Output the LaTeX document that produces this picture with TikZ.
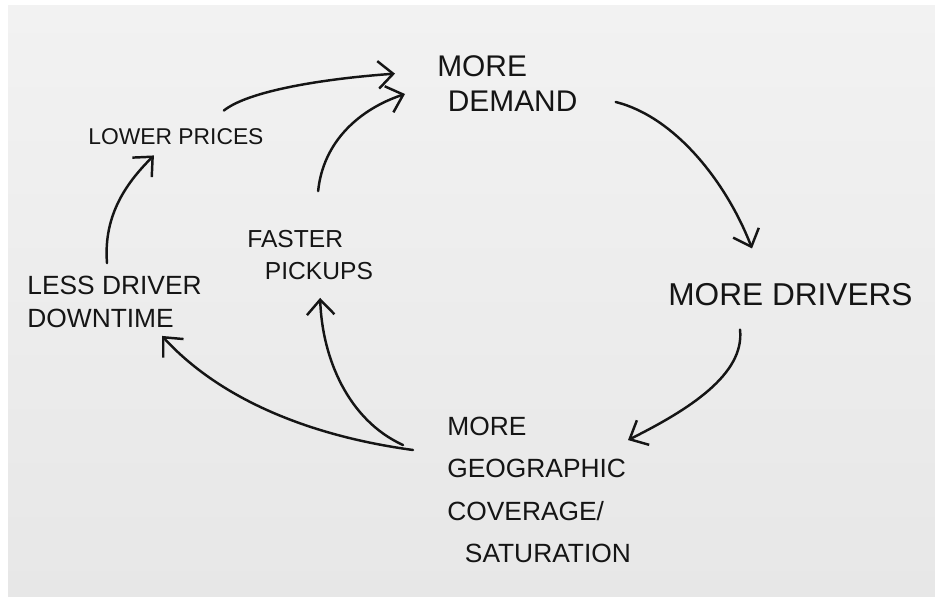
\documentclass[tikz,border=0pt]{standalone}
\usepackage{fontspec}
\setmainfont{Liberation Sans}
\usetikzlibrary{arrows.meta}
\definecolor{papertop}{HTML}{F2F2F2}
\definecolor{paperbot}{HTML}{E7E7E7}
\definecolor{ink}{HTML}{151515}
\tikzset{
  lbl/.style={inner sep=0pt, text=ink, align=left},
  big/.style={lbl, font=\fontsize{17}{22}\selectfont},
  geofont/.style={lbl, font=\fontsize{15}{24}\selectfont},
  small/.style={lbl, font=\fontsize{14}{18}\selectfont},
  mid/.style={lbl, font=\fontsize{15}{18.5}\selectfont},
  tiny/.style={lbl, font=\fontsize{13}{16}\selectfont},
  arr/.style={draw=ink, line width=1.4pt, line cap=round,
    -{Straight Barb[length=3mm,width=5.5mm,line width=1.4pt]}}
}
\begin{document}
\begin{tikzpicture}[x=0.02cm,y=-0.02cm]
\useasboundingbox (0,0) rectangle (935,597);
\fill[white] (0,0) rectangle (935,597);
\shade[top color=papertop, bottom color=paperbot] (8,6) rectangle (935,597);

\node[big, anchor=west] (demand) at (437,84) {MORE\\[-2pt]\hspace*{6pt}DEMAND};
\node[big, anchor=west, font=\fontsize{18}{22}\selectfont] (drivers) at (668,295) {MORE DRIVERS};
\node[geofont, anchor=west] (geo) at (447,490) {MORE\\GEOGRAPHIC\\COVERAGE/\\\hspace*{10pt}SATURATION};
\node[small, anchor=west] (faster) at (247,255) {FASTER\\\hspace*{10pt}PICKUPS};
\node[mid, anchor=west] (less) at (27,302) {LESS DRIVER\\DOWNTIME};
\node[tiny, anchor=west] (lower) at (88,137) {LOWER PRICES};

% lower prices -> more demand
\draw[arr] ([shift={(-40,-18)}]lower.north east) .. controls +(25,-20) and +(-70,5) .. ([shift={(-42,18)}]demand.north west);
% faster pickups -> more demand
\draw[arr] ([shift={(8,-39)}]faster.north) .. controls +(5,-50) and +(-45,15) .. ([shift={(-32,10)}]demand.west);
% more demand -> more drivers
\draw[arr] ([shift={(38,18)}]demand.east) .. controls +(60,15) and +(-25,-65) .. ([shift={(84,-35)}]drivers.north west);
% more drivers -> more geographic
\draw[arr] ([shift={(72,23)}]drivers.south west) .. controls +(5,45) and +(60,-30) .. ([shift={(181,23)}]geo.north west);
% geo -> less driver downtime
\draw[arr] ([shift={(-34,-40)}]geo.west) .. controls +(-110,-15) and +(55,60) .. ([shift={(135,8)}]less.south west);
% geo -> faster pickups
\draw[arr] ([shift={(-44,-45)}]geo.west) .. controls +(-55,-25) and +(2,60) .. ([shift={(10,18)}]faster.south);
% less driver downtime -> lower prices
\draw[arr] ([shift={(80,-13)}]less.north west) .. controls +(-4,-50) and +(-25,25) .. ([shift={(-22,10)}]lower.south);
\end{tikzpicture}
\end{document}
